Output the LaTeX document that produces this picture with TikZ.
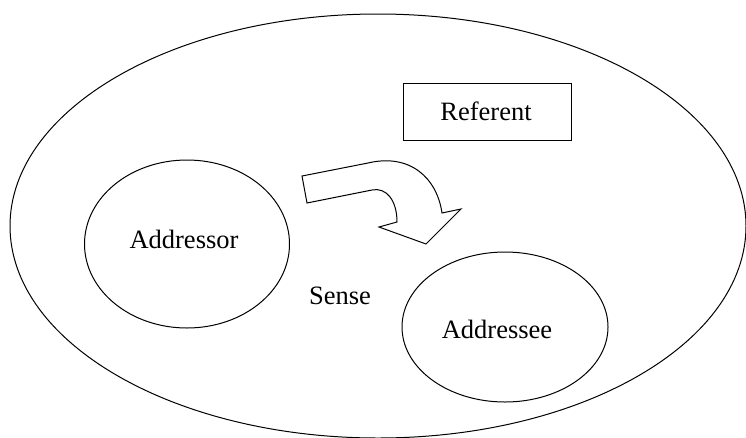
\documentclass[tikz,border=0pt]{standalone}
\usepackage{fontspec}
\setmainfont{Liberation Serif}
\usetikzlibrary{shapes.geometric}
\tikzset{
	party/.style={draw, ellipse, line width=1pt, inner sep=0pt},
	label text/.style={font=\fontsize{26.5}{30}\selectfont}
}
\begin{document}
\begin{tikzpicture}[x=1pt, y=-1pt, line width=1pt]
	\useasboundingbox (0,0) rectangle (746,437);
	\clip (0,0) rectangle (746,437);
	% The surrounding world
	\node[party, minimum width=736pt, minimum height=424pt] (world) at (378,226) {};
	% The two parties
	\node[party, minimum width=205pt, minimum height=168pt] (addressor) at (187,244) {};
	\node[party, minimum width=206pt, minimum height=150pt] (addressee) at (505,327) {};
	\node[label text] (addressorname) at (184,239) {Addressor};
	\node[label text] (addresseename) at (497,329) {Addressee};
	% The referent box
	\node[draw, minimum width=168pt, minimum height=57pt] (referent) at (487,112) {};
	\node[label text] (referentname) at (486,111) {Referent};
	\node[label text] (sense) at (340,296) {Sense};
	% Define the points of the bent arrow
	\coordinate (tailtop) at (302,176);
	\coordinate (tailbot) at (307,203);
	\coordinate (innerA) at (372,190);
	\coordinate (innerB) at (397,222);
	\coordinate (barbL) at (379,227);
	\coordinate (tip) at (426,244);
	\coordinate (barbR) at (461,209);
	\coordinate (outerB) at (442,213);
	\coordinate (outerA) at (368,163);
	% Draw the arrow
	\draw (tailtop) -- (tailbot) -- (innerA) .. controls (386,187) and (397,200) .. (innerB)
		-- (barbL) -- (tip) -- (barbR) -- (outerB) .. controls (437,178) and (410,153) .. (outerA) -- cycle;
\end{tikzpicture}
\end{document}
